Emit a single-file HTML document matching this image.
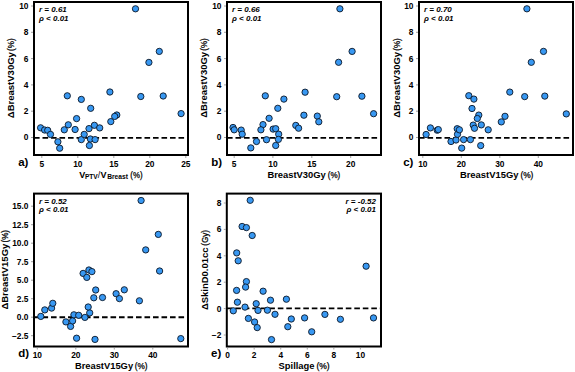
<!DOCTYPE html>
<html><head><meta charset="utf-8"><style>
html,body{margin:0;padding:0;background:#fff;}
svg{display:block;}
text{font-family:"Liberation Sans", sans-serif;fill:#000;}
.tk{font-size:8.4px;font-weight:bold;}
.ti{font-size:9px;font-weight:bold;}
.an{font-size:8px;font-weight:bold;font-style:italic;}

.nw{font-size:8.3px;font-weight:normal;stroke:#000;stroke-width:0.25px;}
.sub{font-size:6.3px;font-weight:bold;}
.tin{font-size:9px;font-weight:normal;}
.lab{font-size:11.5px;font-weight:bold;}
circle{fill:#3898f2;stroke:#0b1626;stroke-width:0.9;}
</style></head><body>
<svg width="575" height="372" viewBox="0 0 575 372">
<g><line x1="34.0" x2="188.0" y1="137.85" y2="137.85" stroke="#000" stroke-width="1.9" stroke-dasharray="5.6 2.9"/>
<circle cx="40.6" cy="127.8" r="3.15"/>
<circle cx="44.6" cy="130.0" r="3.15"/>
<circle cx="47.7" cy="130.3" r="3.15"/>
<circle cx="50.5" cy="134.4" r="3.15"/>
<circle cx="57.9" cy="141.8" r="3.15"/>
<circle cx="59.7" cy="148.2" r="3.15"/>
<circle cx="64.3" cy="129.8" r="3.15"/>
<circle cx="68.3" cy="124.8" r="3.15"/>
<circle cx="67.3" cy="95.8" r="3.15"/>
<circle cx="75.1" cy="129.5" r="3.15"/>
<circle cx="76.6" cy="118.6" r="3.15"/>
<circle cx="81.3" cy="99.4" r="3.15"/>
<circle cx="81.3" cy="139.6" r="3.15"/>
<circle cx="84.2" cy="134.4" r="3.15"/>
<circle cx="89.0" cy="128.6" r="3.15"/>
<circle cx="90.7" cy="108.3" r="3.15"/>
<circle cx="90.4" cy="139.0" r="3.15"/>
<circle cx="89.4" cy="145.5" r="3.15"/>
<circle cx="94.4" cy="125.3" r="3.15"/>
<circle cx="95.1" cy="139.6" r="3.15"/>
<circle cx="99.7" cy="127.9" r="3.15"/>
<circle cx="109.9" cy="92.0" r="3.15"/>
<circle cx="110.8" cy="121.6" r="3.15"/>
<circle cx="116.8" cy="115.0" r="3.15"/>
<circle cx="114.7" cy="116.4" r="3.15"/>
<circle cx="135.5" cy="8.8" r="3.15"/>
<circle cx="140.8" cy="96.5" r="3.15"/>
<circle cx="148.9" cy="62.4" r="3.15"/>
<circle cx="159.3" cy="51.4" r="3.15"/>
<circle cx="163.2" cy="96.0" r="3.15"/>
<circle cx="181.1" cy="113.6" r="3.15"/>
<rect x="34.0" y="2.0" width="154.00" height="153.00" fill="none" stroke="#000" stroke-width="2"/>
<line x1="41.80" x2="41.80" y1="156.0" y2="158.0" stroke="#888" stroke-width="0.8"/>
<text x="41.80" y="166.80" text-anchor="middle" class="tk">5</text>
<line x1="77.80" x2="77.80" y1="156.0" y2="158.0" stroke="#888" stroke-width="0.8"/>
<text x="77.80" y="166.80" text-anchor="middle" class="tk">10</text>
<line x1="113.80" x2="113.80" y1="156.0" y2="158.0" stroke="#888" stroke-width="0.8"/>
<text x="113.80" y="166.80" text-anchor="middle" class="tk">15</text>
<line x1="149.80" x2="149.80" y1="156.0" y2="158.0" stroke="#888" stroke-width="0.8"/>
<text x="149.80" y="166.80" text-anchor="middle" class="tk">20</text>
<line x1="185.80" x2="185.80" y1="156.0" y2="158.0" stroke="#888" stroke-width="0.8"/>
<text x="185.80" y="166.80" text-anchor="middle" class="tk">25</text>
<line x1="33.0" x2="31.0" y1="137.50" y2="137.50" stroke="#888" stroke-width="0.8"/>
<text x="28.50" y="140.40" text-anchor="end" class="tk">0</text>
<line x1="33.0" x2="31.0" y1="111.20" y2="111.20" stroke="#888" stroke-width="0.8"/>
<text x="28.50" y="114.10" text-anchor="end" class="tk">2</text>
<line x1="33.0" x2="31.0" y1="84.90" y2="84.90" stroke="#888" stroke-width="0.8"/>
<text x="28.50" y="87.80" text-anchor="end" class="tk">4</text>
<line x1="33.0" x2="31.0" y1="58.60" y2="58.60" stroke="#888" stroke-width="0.8"/>
<text x="28.50" y="61.50" text-anchor="end" class="tk">6</text>
<line x1="33.0" x2="31.0" y1="32.30" y2="32.30" stroke="#888" stroke-width="0.8"/>
<text x="28.50" y="35.20" text-anchor="end" class="tk">8</text>
<line x1="33.0" x2="31.0" y1="6.00" y2="6.00" stroke="#888" stroke-width="0.8"/>
<text x="28.50" y="8.90" text-anchor="end" class="tk">10</text>
<text x="79.30" y="177.60" class="ti">V</text>
<text x="84.90" y="178.50" class="sub" textLength="12.90" lengthAdjust="spacingAndGlyphs">PTV</text>
<text x="97.80" y="177.60" class="tin">/</text>
<text x="100.40" y="177.60" class="ti">V</text>
<text x="107.20" y="178.70" class="sub" textLength="20.80" lengthAdjust="spacingAndGlyphs">Breast</text>
<text x="130.30" y="177.60" class="nw" textLength="12.30" lengthAdjust="spacingAndGlyphs">(%)</text>
<text transform="translate(13.90,118.20) rotate(-90)" class="ti" textLength="66.10" lengthAdjust="spacingAndGlyphs">ΔBreastV30Gy</text>
<text transform="translate(13.90,51.00) rotate(-90)" class="nw" textLength="12.60" lengthAdjust="spacingAndGlyphs">(%)</text>
<text x="18.20" y="165.70" class="lab">a)</text>
<text x="39.00" y="11.90" text-anchor="start" class="an">r = 0.61</text>
<text x="39.00" y="20.60" text-anchor="start" class="an">ρ &lt; 0.01</text></g>
<g><line x1="227.0" x2="381.0" y1="137.85" y2="137.85" stroke="#000" stroke-width="1.9" stroke-dasharray="5.6 2.9"/>
<circle cx="233.0" cy="127.5" r="3.15"/>
<circle cx="234.2" cy="129.8" r="3.15"/>
<circle cx="241.2" cy="130.1" r="3.15"/>
<circle cx="242.2" cy="134.2" r="3.15"/>
<circle cx="250.8" cy="147.9" r="3.15"/>
<circle cx="256.5" cy="141.5" r="3.15"/>
<circle cx="265.3" cy="95.8" r="3.15"/>
<circle cx="263.0" cy="124.6" r="3.15"/>
<circle cx="260.9" cy="129.8" r="3.15"/>
<circle cx="269.1" cy="118.3" r="3.15"/>
<circle cx="266.5" cy="139.7" r="3.15"/>
<circle cx="277.8" cy="108.3" r="3.15"/>
<circle cx="283.9" cy="99.1" r="3.15"/>
<circle cx="273.1" cy="129.1" r="3.15"/>
<circle cx="275.7" cy="128.7" r="3.15"/>
<circle cx="278.7" cy="134.2" r="3.15"/>
<circle cx="278.4" cy="139.4" r="3.15"/>
<circle cx="275.7" cy="145.5" r="3.15"/>
<circle cx="295.8" cy="125.4" r="3.15"/>
<circle cx="298.6" cy="128.2" r="3.15"/>
<circle cx="305.1" cy="92.2" r="3.15"/>
<circle cx="303.9" cy="115.2" r="3.15"/>
<circle cx="317.3" cy="116.1" r="3.15"/>
<circle cx="318.8" cy="121.8" r="3.15"/>
<circle cx="336.7" cy="96.7" r="3.15"/>
<circle cx="339.9" cy="8.8" r="3.15"/>
<circle cx="338.6" cy="62.3" r="3.15"/>
<circle cx="352.1" cy="51.4" r="3.15"/>
<circle cx="361.9" cy="96.2" r="3.15"/>
<circle cx="373.6" cy="113.7" r="3.15"/>
<rect x="227.0" y="2.0" width="154.00" height="153.00" fill="none" stroke="#000" stroke-width="2"/>
<line x1="234.20" x2="234.20" y1="156.0" y2="158.0" stroke="#888" stroke-width="0.8"/>
<text x="234.20" y="166.80" text-anchor="middle" class="tk">5</text>
<line x1="272.90" x2="272.90" y1="156.0" y2="158.0" stroke="#888" stroke-width="0.8"/>
<text x="272.90" y="166.80" text-anchor="middle" class="tk">10</text>
<line x1="311.80" x2="311.80" y1="156.0" y2="158.0" stroke="#888" stroke-width="0.8"/>
<text x="311.80" y="166.80" text-anchor="middle" class="tk">15</text>
<line x1="350.70" x2="350.70" y1="156.0" y2="158.0" stroke="#888" stroke-width="0.8"/>
<text x="350.70" y="166.80" text-anchor="middle" class="tk">20</text>
<line x1="226.0" x2="224.0" y1="137.50" y2="137.50" stroke="#888" stroke-width="0.8"/>
<text x="221.50" y="140.40" text-anchor="end" class="tk">0</text>
<line x1="226.0" x2="224.0" y1="111.20" y2="111.20" stroke="#888" stroke-width="0.8"/>
<text x="221.50" y="114.10" text-anchor="end" class="tk">2</text>
<line x1="226.0" x2="224.0" y1="84.90" y2="84.90" stroke="#888" stroke-width="0.8"/>
<text x="221.50" y="87.80" text-anchor="end" class="tk">4</text>
<line x1="226.0" x2="224.0" y1="58.60" y2="58.60" stroke="#888" stroke-width="0.8"/>
<text x="221.50" y="61.50" text-anchor="end" class="tk">6</text>
<line x1="226.0" x2="224.0" y1="32.30" y2="32.30" stroke="#888" stroke-width="0.8"/>
<text x="221.50" y="35.20" text-anchor="end" class="tk">8</text>
<line x1="226.0" x2="224.0" y1="6.00" y2="6.00" stroke="#888" stroke-width="0.8"/>
<text x="221.50" y="8.90" text-anchor="end" class="tk">10</text>
<text x="267.40" y="177.80" class="ti" textLength="58.40" lengthAdjust="spacingAndGlyphs">BreastV30Gy</text>
<text x="327.80" y="177.80" class="nw" textLength="12.50" lengthAdjust="spacingAndGlyphs">(%)</text>
<text transform="translate(207.00,117.80) rotate(-90)" class="ti" textLength="65.90" lengthAdjust="spacingAndGlyphs">ΔBreastV30Gy</text>
<text transform="translate(207.00,50.80) rotate(-90)" class="nw" textLength="12.60" lengthAdjust="spacingAndGlyphs">(%)</text>
<text x="211.20" y="165.70" class="lab">b)</text>
<text x="232.00" y="11.90" text-anchor="start" class="an">r = 0.66</text>
<text x="232.00" y="20.60" text-anchor="start" class="an">ρ &lt; 0.01</text></g>
<g><line x1="419.0" x2="573.0" y1="137.85" y2="137.85" stroke="#000" stroke-width="1.9" stroke-dasharray="5.6 2.9"/>
<circle cx="426.1" cy="134.5" r="3.15"/>
<circle cx="430.4" cy="127.9" r="3.15"/>
<circle cx="437.2" cy="130.2" r="3.15"/>
<circle cx="438.3" cy="129.6" r="3.15"/>
<circle cx="451.0" cy="141.5" r="3.15"/>
<circle cx="456.0" cy="140.0" r="3.15"/>
<circle cx="457.5" cy="134.3" r="3.15"/>
<circle cx="457.2" cy="128.7" r="3.15"/>
<circle cx="459.4" cy="129.8" r="3.15"/>
<circle cx="461.7" cy="148.1" r="3.15"/>
<circle cx="463.6" cy="139.6" r="3.15"/>
<circle cx="468.8" cy="95.7" r="3.15"/>
<circle cx="473.9" cy="99.1" r="3.15"/>
<circle cx="472.0" cy="108.5" r="3.15"/>
<circle cx="470.4" cy="139.6" r="3.15"/>
<circle cx="473.2" cy="125.1" r="3.15"/>
<circle cx="474.5" cy="128.3" r="3.15"/>
<circle cx="478.8" cy="115.1" r="3.15"/>
<circle cx="477.3" cy="118.5" r="3.15"/>
<circle cx="481.3" cy="124.9" r="3.15"/>
<circle cx="480.7" cy="145.6" r="3.15"/>
<circle cx="488.2" cy="129.8" r="3.15"/>
<circle cx="509.8" cy="92.1" r="3.15"/>
<circle cx="524.7" cy="96.6" r="3.15"/>
<circle cx="544.8" cy="96.1" r="3.15"/>
<circle cx="566.3" cy="113.9" r="3.15"/>
<circle cx="505.0" cy="116.3" r="3.15"/>
<circle cx="501.3" cy="121.9" r="3.15"/>
<circle cx="526.9" cy="8.8" r="3.15"/>
<circle cx="543.5" cy="51.4" r="3.15"/>
<circle cx="531.3" cy="62.3" r="3.15"/>
<rect x="419.0" y="2.0" width="154.00" height="153.00" fill="none" stroke="#000" stroke-width="2"/>
<line x1="422.80" x2="422.80" y1="156.0" y2="158.0" stroke="#888" stroke-width="0.8"/>
<text x="422.80" y="166.80" text-anchor="middle" class="tk">10</text>
<line x1="461.30" x2="461.30" y1="156.0" y2="158.0" stroke="#888" stroke-width="0.8"/>
<text x="461.30" y="166.80" text-anchor="middle" class="tk">20</text>
<line x1="499.80" x2="499.80" y1="156.0" y2="158.0" stroke="#888" stroke-width="0.8"/>
<text x="499.80" y="166.80" text-anchor="middle" class="tk">30</text>
<line x1="538.30" x2="538.30" y1="156.0" y2="158.0" stroke="#888" stroke-width="0.8"/>
<text x="538.30" y="166.80" text-anchor="middle" class="tk">40</text>
<line x1="418.0" x2="416.0" y1="137.50" y2="137.50" stroke="#888" stroke-width="0.8"/>
<text x="413.50" y="140.40" text-anchor="end" class="tk">0</text>
<line x1="418.0" x2="416.0" y1="111.20" y2="111.20" stroke="#888" stroke-width="0.8"/>
<text x="413.50" y="114.10" text-anchor="end" class="tk">2</text>
<line x1="418.0" x2="416.0" y1="84.90" y2="84.90" stroke="#888" stroke-width="0.8"/>
<text x="413.50" y="87.80" text-anchor="end" class="tk">4</text>
<line x1="418.0" x2="416.0" y1="58.60" y2="58.60" stroke="#888" stroke-width="0.8"/>
<text x="413.50" y="61.50" text-anchor="end" class="tk">6</text>
<line x1="418.0" x2="416.0" y1="32.30" y2="32.30" stroke="#888" stroke-width="0.8"/>
<text x="413.50" y="35.20" text-anchor="end" class="tk">8</text>
<line x1="418.0" x2="416.0" y1="6.00" y2="6.00" stroke="#888" stroke-width="0.8"/>
<text x="413.50" y="8.90" text-anchor="end" class="tk">10</text>
<text x="459.90" y="177.80" class="ti" textLength="58.60" lengthAdjust="spacingAndGlyphs">BreastV15Gy</text>
<text x="520.40" y="177.80" class="nw" textLength="13.00" lengthAdjust="spacingAndGlyphs">(%)</text>
<text transform="translate(399.70,117.80) rotate(-90)" class="ti" textLength="65.90" lengthAdjust="spacingAndGlyphs">ΔBreastV30Gy</text>
<text transform="translate(399.70,50.80) rotate(-90)" class="nw" textLength="12.60" lengthAdjust="spacingAndGlyphs">(%)</text>
<text x="403.20" y="165.70" class="lab">c)</text>
<text x="424.00" y="11.90" text-anchor="start" class="an">r = 0.70</text>
<text x="424.00" y="20.60" text-anchor="start" class="an">ρ &lt; 0.01</text></g>
<g><line x1="34.0" x2="188.0" y1="317.3" y2="317.3" stroke="#000" stroke-width="1.9" stroke-dasharray="5.6 2.9"/>
<circle cx="40.8" cy="316.4" r="3.15"/>
<circle cx="44.8" cy="309.9" r="3.15"/>
<circle cx="51.6" cy="308.1" r="3.15"/>
<circle cx="52.8" cy="303.3" r="3.15"/>
<circle cx="65.9" cy="321.9" r="3.15"/>
<circle cx="70.6" cy="326.4" r="3.15"/>
<circle cx="72.6" cy="320.9" r="3.15"/>
<circle cx="73.9" cy="314.8" r="3.15"/>
<circle cx="78.7" cy="315.3" r="3.15"/>
<circle cx="84.9" cy="317.4" r="3.15"/>
<circle cx="89.7" cy="312.9" r="3.15"/>
<circle cx="88.2" cy="307.0" r="3.15"/>
<circle cx="76.6" cy="338.2" r="3.15"/>
<circle cx="95.0" cy="339.4" r="3.15"/>
<circle cx="93.8" cy="297.8" r="3.15"/>
<circle cx="95.7" cy="290.0" r="3.15"/>
<circle cx="102.5" cy="297.5" r="3.15"/>
<circle cx="83.1" cy="273.4" r="3.15"/>
<circle cx="88.9" cy="270.0" r="3.15"/>
<circle cx="91.9" cy="271.6" r="3.15"/>
<circle cx="86.8" cy="277.4" r="3.15"/>
<circle cx="116.1" cy="293.7" r="3.15"/>
<circle cx="119.4" cy="298.6" r="3.15"/>
<circle cx="124.3" cy="289.8" r="3.15"/>
<circle cx="139.4" cy="300.8" r="3.15"/>
<circle cx="141.1" cy="200.5" r="3.15"/>
<circle cx="158.3" cy="234.4" r="3.15"/>
<circle cx="145.7" cy="249.9" r="3.15"/>
<circle cx="159.6" cy="271.0" r="3.15"/>
<circle cx="180.8" cy="338.6" r="3.15"/>
<rect x="34.0" y="193.6" width="154.00" height="152.90" fill="none" stroke="#000" stroke-width="2"/>
<line x1="37.30" x2="37.30" y1="347.5" y2="349.5" stroke="#888" stroke-width="0.8"/>
<text x="37.30" y="358.30" text-anchor="middle" class="tk">10</text>
<line x1="75.80" x2="75.80" y1="347.5" y2="349.5" stroke="#888" stroke-width="0.8"/>
<text x="75.80" y="358.30" text-anchor="middle" class="tk">20</text>
<line x1="114.30" x2="114.30" y1="347.5" y2="349.5" stroke="#888" stroke-width="0.8"/>
<text x="114.30" y="358.30" text-anchor="middle" class="tk">30</text>
<line x1="152.80" x2="152.80" y1="347.5" y2="349.5" stroke="#888" stroke-width="0.8"/>
<text x="152.80" y="358.30" text-anchor="middle" class="tk">40</text>
<line x1="33.0" x2="31.0" y1="335.70" y2="335.70" stroke="#888" stroke-width="0.8"/>
<text x="28.50" y="338.60" text-anchor="end" class="tk">−2.5</text>
<line x1="33.0" x2="31.0" y1="317.20" y2="317.20" stroke="#888" stroke-width="0.8"/>
<text x="28.50" y="320.10" text-anchor="end" class="tk">0.0</text>
<line x1="33.0" x2="31.0" y1="298.70" y2="298.70" stroke="#888" stroke-width="0.8"/>
<text x="28.50" y="301.60" text-anchor="end" class="tk">2.5</text>
<line x1="33.0" x2="31.0" y1="280.20" y2="280.20" stroke="#888" stroke-width="0.8"/>
<text x="28.50" y="283.10" text-anchor="end" class="tk">5.0</text>
<line x1="33.0" x2="31.0" y1="261.70" y2="261.70" stroke="#888" stroke-width="0.8"/>
<text x="28.50" y="264.60" text-anchor="end" class="tk">7.5</text>
<line x1="33.0" x2="31.0" y1="243.20" y2="243.20" stroke="#888" stroke-width="0.8"/>
<text x="28.50" y="246.10" text-anchor="end" class="tk">10.0</text>
<line x1="33.0" x2="31.0" y1="224.70" y2="224.70" stroke="#888" stroke-width="0.8"/>
<text x="28.50" y="227.60" text-anchor="end" class="tk">12.5</text>
<line x1="33.0" x2="31.0" y1="206.20" y2="206.20" stroke="#888" stroke-width="0.8"/>
<text x="28.50" y="209.10" text-anchor="end" class="tk">15.0</text>
<text x="74.90" y="368.70" class="ti" textLength="58.20" lengthAdjust="spacingAndGlyphs">BreastV15Gy</text>
<text x="134.80" y="368.70" class="nw" textLength="12.80" lengthAdjust="spacingAndGlyphs">(%)</text>
<text transform="translate(7.80,309.60) rotate(-90)" class="ti" textLength="65.90" lengthAdjust="spacingAndGlyphs">ΔBreastV15Gy</text>
<text transform="translate(7.80,242.50) rotate(-90)" class="nw" textLength="12.50" lengthAdjust="spacingAndGlyphs">(%)</text>
<text x="18.20" y="357.20" class="lab">d)</text>
<text x="39.00" y="203.50" text-anchor="start" class="an">r = 0.52</text>
<text x="39.00" y="212.20" text-anchor="start" class="an">ρ &lt; 0.01</text></g>
<g><line x1="226.8" x2="381.0" y1="308.4" y2="308.4" stroke="#000" stroke-width="1.9" stroke-dasharray="5.6 2.9"/>
<circle cx="250.2" cy="200.3" r="3.15"/>
<circle cx="242.1" cy="226.5" r="3.15"/>
<circle cx="246.4" cy="227.6" r="3.15"/>
<circle cx="252.2" cy="235.5" r="3.15"/>
<circle cx="236.7" cy="252.9" r="3.15"/>
<circle cx="238.2" cy="260.8" r="3.15"/>
<circle cx="246.4" cy="281.6" r="3.15"/>
<circle cx="245.6" cy="287.1" r="3.15"/>
<circle cx="236.6" cy="290.4" r="3.15"/>
<circle cx="263.1" cy="291.2" r="3.15"/>
<circle cx="237.4" cy="302.2" r="3.15"/>
<circle cx="245.0" cy="307.1" r="3.15"/>
<circle cx="233.3" cy="310.8" r="3.15"/>
<circle cx="256.2" cy="303.7" r="3.15"/>
<circle cx="258.0" cy="310.4" r="3.15"/>
<circle cx="270.5" cy="300.2" r="3.15"/>
<circle cx="267.4" cy="310.2" r="3.15"/>
<circle cx="275.0" cy="314.3" r="3.15"/>
<circle cx="286.4" cy="299.2" r="3.15"/>
<circle cx="248.4" cy="318.4" r="3.15"/>
<circle cx="254.6" cy="322.0" r="3.15"/>
<circle cx="257.2" cy="327.6" r="3.15"/>
<circle cx="271.5" cy="339.6" r="3.15"/>
<circle cx="291.3" cy="319.0" r="3.15"/>
<circle cx="287.8" cy="326.7" r="3.15"/>
<circle cx="304.6" cy="317.9" r="3.15"/>
<circle cx="324.9" cy="314.4" r="3.15"/>
<circle cx="340.4" cy="319.3" r="3.15"/>
<circle cx="373.5" cy="317.9" r="3.15"/>
<circle cx="311.7" cy="331.8" r="3.15"/>
<circle cx="366.1" cy="266.2" r="3.15"/>
<rect x="226.8" y="193.6" width="154.20" height="152.90" fill="none" stroke="#000" stroke-width="2"/>
<line x1="227.60" x2="227.60" y1="347.5" y2="349.5" stroke="#888" stroke-width="0.8"/>
<text x="227.60" y="358.30" text-anchor="middle" class="tk">0</text>
<line x1="254.16" x2="254.16" y1="347.5" y2="349.5" stroke="#888" stroke-width="0.8"/>
<text x="254.16" y="358.30" text-anchor="middle" class="tk">2</text>
<line x1="280.72" x2="280.72" y1="347.5" y2="349.5" stroke="#888" stroke-width="0.8"/>
<text x="280.72" y="358.30" text-anchor="middle" class="tk">4</text>
<line x1="307.28" x2="307.28" y1="347.5" y2="349.5" stroke="#888" stroke-width="0.8"/>
<text x="307.28" y="358.30" text-anchor="middle" class="tk">6</text>
<line x1="333.84" x2="333.84" y1="347.5" y2="349.5" stroke="#888" stroke-width="0.8"/>
<text x="333.84" y="358.30" text-anchor="middle" class="tk">8</text>
<line x1="360.40" x2="360.40" y1="347.5" y2="349.5" stroke="#888" stroke-width="0.8"/>
<text x="360.40" y="358.30" text-anchor="middle" class="tk">10</text>
<line x1="225.8" x2="223.8" y1="335.00" y2="335.00" stroke="#888" stroke-width="0.8"/>
<text x="221.30" y="337.90" text-anchor="end" class="tk">−2</text>
<line x1="225.8" x2="223.8" y1="308.60" y2="308.60" stroke="#888" stroke-width="0.8"/>
<text x="221.30" y="311.50" text-anchor="end" class="tk">0</text>
<line x1="225.8" x2="223.8" y1="282.20" y2="282.20" stroke="#888" stroke-width="0.8"/>
<text x="221.30" y="285.10" text-anchor="end" class="tk">2</text>
<line x1="225.8" x2="223.8" y1="255.80" y2="255.80" stroke="#888" stroke-width="0.8"/>
<text x="221.30" y="258.70" text-anchor="end" class="tk">4</text>
<line x1="225.8" x2="223.8" y1="229.40" y2="229.40" stroke="#888" stroke-width="0.8"/>
<text x="221.30" y="232.30" text-anchor="end" class="tk">6</text>
<line x1="225.8" x2="223.8" y1="203.00" y2="203.00" stroke="#888" stroke-width="0.8"/>
<text x="221.30" y="205.90" text-anchor="end" class="tk">8</text>
<text x="278.60" y="368.70" class="ti" textLength="35.90" lengthAdjust="spacingAndGlyphs">Spillage</text>
<text x="316.40" y="368.70" class="nw" textLength="13.30" lengthAdjust="spacingAndGlyphs">(%)</text>
<text transform="translate(207.80,310.10) rotate(-90)" class="ti" textLength="62.70" lengthAdjust="spacingAndGlyphs">ΔSkinD0.01cc</text>
<text transform="translate(207.80,245.80) rotate(-90)" class="nw" textLength="15.80" lengthAdjust="spacingAndGlyphs">(Gy)</text>
<text x="211.00" y="357.20" class="lab">e)</text>
<text x="376.00" y="203.50" text-anchor="end" class="an">r = -0.52</text>
<text x="376.00" y="212.20" text-anchor="end" class="an">ρ &lt; 0.01</text></g>
</svg>
</body></html>
